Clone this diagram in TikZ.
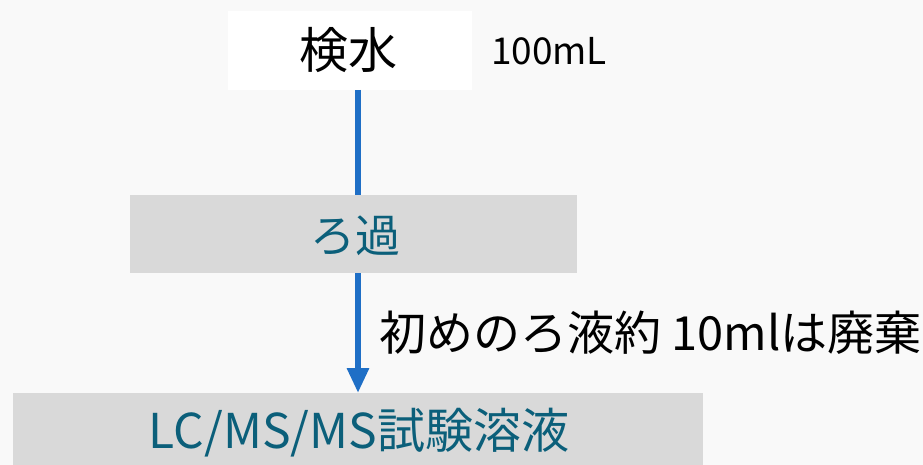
\documentclass[tikz,border=0pt]{standalone}
\usepackage{fontspec}
\setmainfont{Noto Sans CJK JP}
\usetikzlibrary{arrows.meta,calc}
\definecolor{boxgray}{HTML}{D9D9D9}
\definecolor{tealtxt}{HTML}{0B5F7A}
\definecolor{arrblue}{HTML}{1F6FC6}
\definecolor{bg}{HTML}{F9F9F9}
\tikzset{
  stagebox/.style={rectangle, inner sep=0pt, outer sep=0pt},
  flowarrow/.style={draw=arrblue, line width=6pt},
}
\begin{document}
\begin{tikzpicture}[x=1pt,y=-1pt]
\fill[bg] (0,0) rectangle (923,465);
\useasboundingbox (0,0) rectangle (923,465);
\node[stagebox, fill=white, minimum width=244pt, minimum height=79pt] (kensui) at (350,50.5) {};
\node (kensuitxt) at (348,50) {\fontsize{49}{54}\selectfont 検水};
\node (vol) at (549,51) {\fontsize{37}{42}\selectfont 100mL};
\node[stagebox, fill=boxgray, minimum width=447pt, minimum height=78pt] (roka) at (353.5,234) {};
\node[text=tealtxt] (rokatxt) at (355,236) {\fontsize{45}{50}\selectfont ろ過};
\node[stagebox, fill=boxgray, minimum width=690pt, minimum height=76pt] (lcms) at (358,431) {};
\node[text=tealtxt] (lcmstxt) at (359,433) {\fontsize{48}{52}\selectfont LC/MS/MS試験溶液};
\draw[flowarrow] (kensui.south -| lcms.north) -- (roka.north -| lcms.north);
\draw[flowarrow, -{Triangle[width=21pt,length=25pt]}] (roka.south -| lcms.north) -- (lcms.north);
\node[anchor=west, inner sep=0pt] (note) at (379,333) {\fontsize{47}{52}\selectfont 初めのろ液約 10mlは廃棄};
\end{tikzpicture}
\end{document}
